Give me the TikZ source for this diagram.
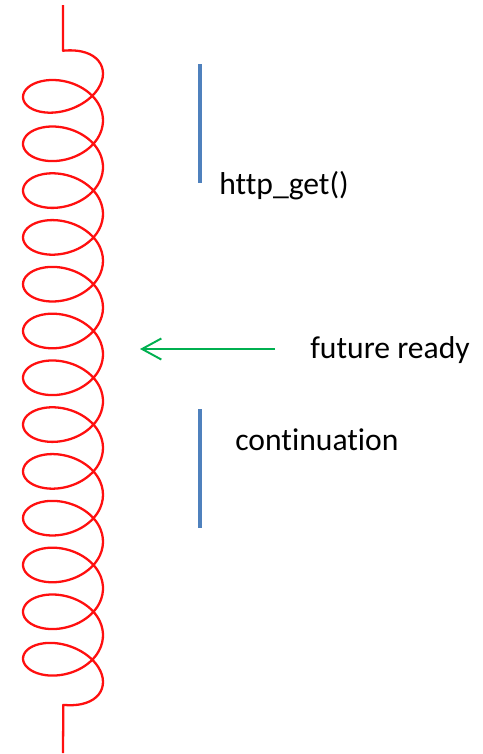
\documentclass[tikz,border=0pt]{standalone}
\usepackage{fontspec}
\setmainfont{Carlito}[RawFeature=-liga]
\usetikzlibrary{arrows.meta}
\definecolor{coilred}{HTML}{FF0F0F}
\definecolor{barblue}{HTML}{4F81BD}
\definecolor{readygreen}{HTML}{00B050}
\tikzset{
  every picture/.style={line join=round, >=Stealth},
  coil/.style={coilred, line width=1.3pt},
  bar/.style={barblue, line width=2.8pt},
  note/.style={font=\fontsize{18}{22}\selectfont, anchor=base west, inner sep=0pt},
  signal/.style={readygreen, line width=1.1pt, -{Straight Barb[length=11pt,width=12pt]}},
}

\begin{document}
\begin{tikzpicture}[x=0.02cm,y=-0.02cm]
\useasboundingbox (0,0) rectangle (483,754);
% the spring (one loop per 2pi, loops flattened at both ends)
\draw[coil] (63,5)--(63,50.7)
  --plot[smooth, samples=700, domain=0:27*pi, variable=\t]
    ({63+40*sin(\t r)},{61.9+7.448*\t-28*(1-0.6*exp(-\t/1.5)-0.6*exp(-(27*pi-\t)/1.5))*cos(\t r)})
  --(63,753);
% work before and after the wait
\coordinate (get top) at (200,64);
\coordinate (get end) at (200,183);
\coordinate (cont top) at (200,409);
\coordinate (cont end) at (200,528);
\draw[bar] (get top)--(get end);
\draw[bar] (cont top)--(cont end);
\node[note] (get) at (219,194) {http\_get()};
\node[note] (cont) at (235,450) {continuation};
\node[note] (ready) at (310,358) {future ready};
% the future wakes the coroutine
\coordinate (ready start) at (275,349);
\coordinate (coil side) at (140,349);
\draw[signal] (ready start)--(coil side);
\end{tikzpicture}
\end{document}
